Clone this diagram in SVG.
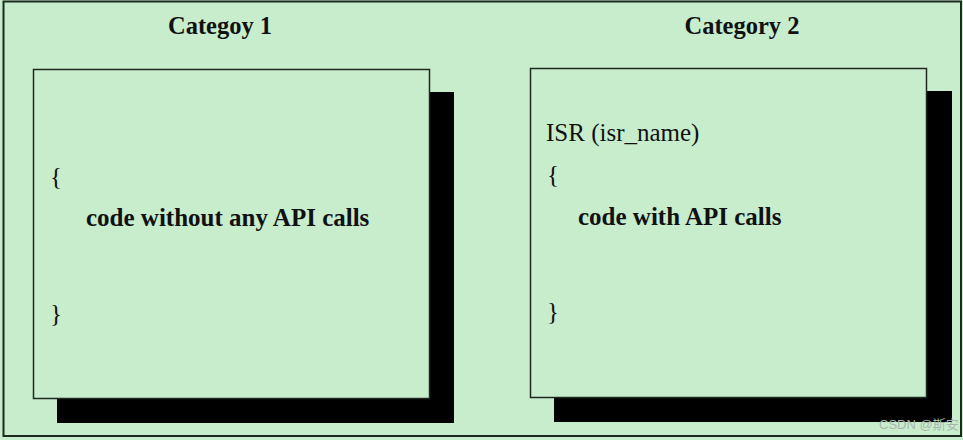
<svg xmlns="http://www.w3.org/2000/svg" width="963" height="440" viewBox="0 0 963 440">
<style>
.bg{fill:#c7edcd}
.frame{fill:#c7edcd;stroke:#1e2a20;stroke-width:2}
.box{fill:#c7edcd;stroke:#1e2a20;stroke-width:1.5}
.shadow{fill:#000}
text{font-family:"Liberation Serif","Times New Roman",serif;fill:#111}
.title{font-size:24.5px;font-weight:bold;text-anchor:middle}
.code{font-size:25px}
.bold{font-weight:bold}
.wm{font-family:"Liberation Sans","Noto Sans CJK SC",sans-serif;font-size:13px;fill:#a9b9ac}
</style>
<rect class="bg" x="0" y="0" width="963" height="440"/>
<rect class="frame" x="3.5" y="1.5" width="957.5" height="434.5"/>
<g id="category1">
<text class="title" x="220" y="34">Categoy 1</text>
<rect class="shadow" x="57" y="92" width="397" height="331"/>
<rect class="box" x="33.5" y="69.5" width="396" height="329"/>
<text class="code" x="50" y="185">{</text>
<text class="code bold" x="86" y="226">code without any API calls</text>
<text class="code" x="50" y="322">}</text>
</g>
<g id="category2">
<text class="title" x="742" y="34">Category 2</text>
<rect class="shadow" x="554" y="91" width="398" height="331"/>
<rect class="box" x="530.5" y="68.5" width="396" height="329"/>
<text class="code" x="546" y="141">ISR (isr_name)</text>
<text class="code" x="547" y="183">{</text>
<text class="code bold" x="578" y="225">code with API calls</text>
<text class="code" x="547" y="320">}</text>
</g>
<g id="connectors"></g>
<text class="wm" x="879" y="429">CSDN @斯安</text>
</svg>
